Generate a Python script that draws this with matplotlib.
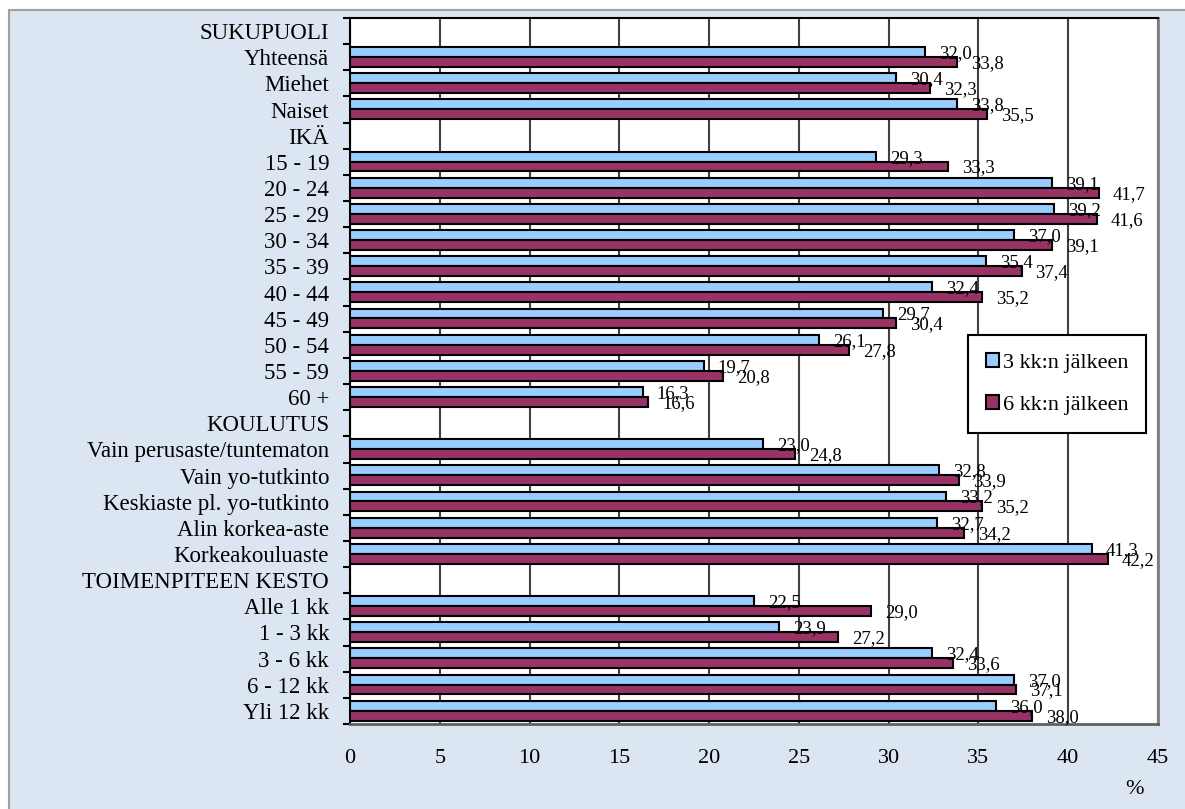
import numpy as np
import matplotlib
matplotlib.use('Agg')
import matplotlib.pyplot as plt
from matplotlib.patches import Rectangle

plt.rcParams['font.family'] = ['Liberation Serif', 'DejaVu Serif']

# row labels, header rows have no values
categories = [
    "SUKUPUOLI", "Yhteensä", "Miehet", "Naiset",
    "IKÄ", "15 - 19", "20 - 24", "25 - 29", "30 - 34", "35 - 39",
    "40 - 44", "45 - 49", "50 - 54", "55 - 59", "60 +",
    "KOULUTUS", "Vain perusaste/tuntematon", "Vain yo-tutkinto",
    "Keskiaste pl. yo-tutkinto", "Alin korkea-aste", "Korkeakouluaste",
    "TOIMENPITEEN KESTO", "Alle 1 kk", "1 - 3 kk", "3 - 6 kk",
    "6 - 12 kk", "Yli 12 kk",
]
nan = np.nan
after_3 = [nan, 32.0, 30.4, 33.8,
           nan, 29.3, 39.1, 39.2, 37.0, 35.4, 32.4, 29.7, 26.1, 19.7, 16.3,
           nan, 23.0, 32.8, 33.2, 32.7, 41.3,
           nan, 22.5, 23.9, 32.4, 37.0, 36.0]
after_6 = [nan, 33.8, 32.3, 35.5,
           nan, 33.3, 41.7, 41.6, 39.1, 37.4, 35.2, 30.4, 27.8, 20.8, 16.6,
           nan, 24.8, 33.9, 35.2, 34.2, 42.2,
           nan, 29.0, 27.2, 33.6, 37.1, 38.0]
series_names = ["3 kk:n jälkeen", "6 kk:n jälkeen"]
x_ticks = [0, 5, 10, 15, 20, 25, 30, 35, 40, 45]

W, H = 1185, 809
fig = plt.figure(figsize=(W / 100, H / 100), dpi=100, facecolor='white')

# outer chart area with grey border
fig.patches.append(Rectangle((9 / W, -0.02), 1.1, 1 - 10 / H + 0.02,
                             transform=fig.transFigure, facecolor='#DCE6F2',
                             edgecolor='#A0A0A0', lw=1.5, zorder=-10))

ax = fig.add_axes([350 / W, 1 - 724 / H, (1158 - 350) / W, (724 - 18) / H])
ax.set_facecolor('white')

y = np.arange(len(categories))
h = 0.38
b1 = ax.barh(y - 0.2, after_3, height=h, color='#99CCFF', edgecolor='black',
             lw=1.5, zorder=3, label=series_names[0])
b2 = ax.barh(y + 0.18, after_6, height=h, color='#993366', edgecolor='black',
             lw=1.5, zorder=3, label=series_names[1])

# value labels
for vals, off in ((after_3, -0.2), (after_6, 0.18)):
    for i, v in enumerate(vals):
        if np.isnan(v):
            continue
        ax.annotate(f"{v:.1f}".replace('.', ','), (v, i + off + 0.06),
                    xytext=(14, 0), textcoords='offset pixels',
                    ha='left', va='center', fontsize=13.5, zorder=5)

ax.set_xlim(0, 45)
ax.set_ylim(len(categories) - 0.5, -0.5)
ax.set_xticks(x_ticks)
ax.set_xticklabels([str(t) for t in x_ticks])
ax.tick_params(axis='x', length=0, pad=18, labelsize=16)
ax.xaxis.grid(True, color='#404040', lw=1.5, zorder=1)
ax.set_axisbelow(True)

ax.set_yticks(np.arange(-0.5, len(categories), 1))
ax.set_yticklabels([])
ax.set_yticks(y, minor=True)
ax.set_yticklabels(categories, minor=True)
ax.tick_params(axis='y', which='major', length=5, width=1.5, direction='out')
ax.tick_params(axis='y', which='minor', length=0, pad=15, labelsize=16.5)

ax.spines['left'].set_color('black')
ax.spines['left'].set_linewidth(1.5)
ax.spines['top'].set_color('black')
ax.spines['top'].set_linewidth(1.5)
ax.spines['right'].set_color('#808080')
ax.spines['right'].set_linewidth(2)
ax.spines['bottom'].set_color('#606060')
ax.spines['bottom'].set_linewidth(2)

leg = ax.legend(handles=[b1, b2], loc='upper right',
                bbox_to_anchor=(1146 / W, 1 - 335 / H),
                bbox_transform=fig.transFigure, fontsize=16,
                fancybox=False, framealpha=1, edgecolor='black',
                handlelength=0.6, handleheight=0.6, handletextpad=0.15,
                labelspacing=1.0, borderpad=0.8, borderaxespad=0)
leg.get_frame().set_linewidth(1.5)
leg.set_zorder(10)

fig.text(1135 / W, 1 - 790 / H, '%', ha='center', va='center', fontsize=16)

fig.savefig('out.png', dpi=100, facecolor=fig.get_facecolor())
